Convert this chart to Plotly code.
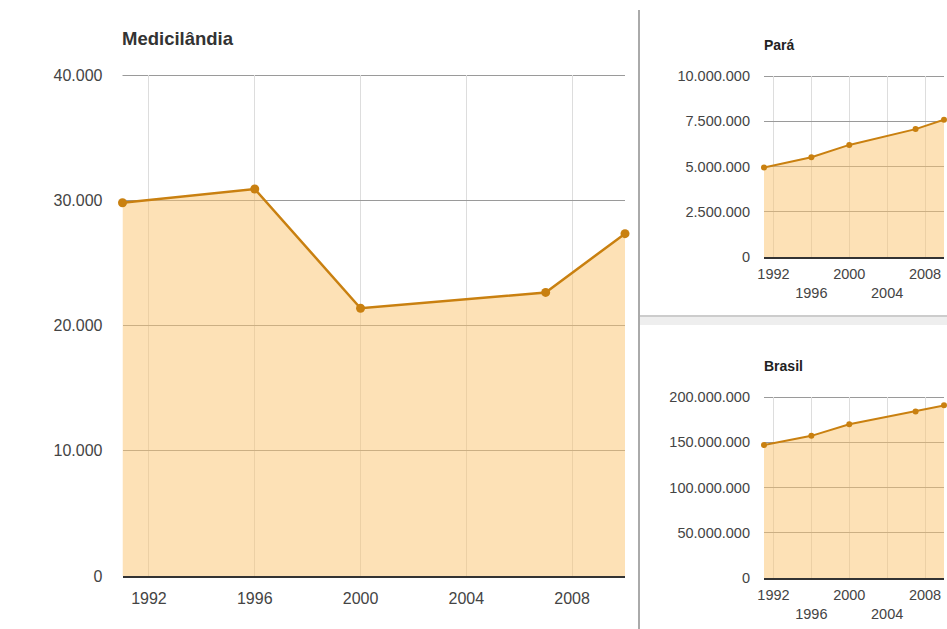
import plotly.graph_objects as go

years = [1991, 1996, 2000, 2007, 2010]
medicilandia = [29800, 30900, 21380, 22640, 27330]
para = [4950060, 5510849, 6192307, 7065573, 7581051]
brasil = [146825475, 157070163, 169799170, 183987291, 190755799]

main_yticks = [0, 10000, 20000, 30000, 40000]
para_yticks = [0, 2500000, 5000000, 7500000, 10000000]
brasil_yticks = [0, 50000000, 100000000, 150000000, 200000000]
xticks = [1992, 1996, 2000, 2004, 2008]
main_xtext = ["1992", "1996", "2000", "2004", "2008"]
small_xtext = ["1992", "<br>1996", "2000", "<br>2004", "2008"]

W, H = 947, 629
LINE = "#c98010"
FILL = "rgba(252,196,110,0.5)"
FONT = "Liberation Sans, Arial, sans-serif"
GRID = "#9a9a9a"

def px_x(a, b):
    return [a / W, b / W]

def px_y(top, bottom):
    return [(H - bottom) / H, (H - top) / H]

fig = go.Figure()

fig.add_trace(go.Scatter(x=years, y=medicilandia, mode="lines+markers", fill="tozeroy",
                         fillcolor=FILL, line=dict(color=LINE, width=2.5),
                         marker=dict(size=9, color=LINE), cliponaxis=False,
                         xaxis="x", yaxis="y", showlegend=False))
fig.add_trace(go.Scatter(x=years, y=para, mode="lines+markers", fill="tozeroy",
                         fillcolor=FILL, line=dict(color=LINE, width=2),
                         marker=dict(size=6, color=LINE), cliponaxis=False,
                         xaxis="x2", yaxis="y2", showlegend=False))
fig.add_trace(go.Scatter(x=years, y=brasil, mode="lines+markers", fill="tozeroy",
                         fillcolor=FILL, line=dict(color=LINE, width=2),
                         marker=dict(size=6, color=LINE), cliponaxis=False,
                         xaxis="x3", yaxis="y3", showlegend=False))

def xax(domain, anchor, text, size, standoff):
    return dict(domain=domain, anchor=anchor, range=[1991, 2010], tickvals=xticks, ticktext=text,
                showgrid=True, gridcolor="#dddddd", gridwidth=1, zeroline=False,
                showline=True, linecolor="#333333", linewidth=2, ticks="",
                ticklabelstandoff=standoff, automargin=False,
                tickfont=dict(family=FONT, size=size, color="#444444"), fixedrange=True)

def yax(domain, anchor, vals, size, standoff):
    return dict(domain=domain, anchor=anchor, range=[vals[0], vals[-1]], tickvals=vals, tickformat=",d",
                showgrid=True, gridcolor=GRID, gridwidth=1, zeroline=False,
                showline=False, ticks="", ticklabelstandoff=standoff, automargin=False,
                tickfont=dict(family=FONT, size=size, color="#444444"), fixedrange=True)

panels = [
    ("x", "y", px_x(122.5, 625), (75, 576), main_yticks, main_xtext, 16, 7, 19),
    ("x2", "y2", px_x(764, 944), (76, 257), para_yticks, small_xtext, 14.5, 3, 13),
    ("x3", "y3", px_x(764, 944), (397, 578), brasil_yticks, small_xtext, 14.5, 3, 13),
]

layout = dict(width=W, height=H, margin=dict(l=0, r=0, t=0, b=0),
              paper_bgcolor="white", plot_bgcolor="white", separators=",.")
shapes = []
for xa, ya, xdom, (top, bot), yvals, xtext, fs, xstand, ystand in panels:
    xkey = "xaxis" + xa[1:]
    ykey = "yaxis" + ya[1:]
    layout[xkey] = xax(xdom, ya, xtext, fs, xstand)
    layout[ykey] = yax(px_y(top, bot), xa, yvals, fs, ystand)
    # top grid line (Plotly drops the grid line at the range edge); nudge half a pixel inside
    half_px = 0.5 * (yvals[-1] - yvals[0]) / (bot - top)
    ytop = yvals[-1] - half_px
    shapes.append(dict(type="line", xref=xa + " domain", yref=ya, x0=0, x1=1, y0=ytop, y1=ytop,
                       line=dict(color=GRID, width=1), layer="below"))
fig.update_layout(**layout)

annotations = [
    dict(text="<b>Medicilândia</b>", x=120 / W, y=(H - 38) / H, font=dict(family=FONT, size=18.5, color="#333333")),
    dict(text="<b>Pará</b>", x=762 / W, y=(H - 45) / H, font=dict(family=FONT, size=14, color="#222222")),
    dict(text="<b>Brasil</b>", x=762 / W, y=(H - 366) / H, font=dict(family=FONT, size=14, color="#222222")),
]
for a in annotations:
    a.update(xref="paper", yref="paper", xanchor="left", yanchor="middle", showarrow=False)
fig.update_layout(annotations=annotations)

shapes += [
    dict(type="rect", xref="paper", yref="paper", x0=640 / W, x1=1, y0=(H - 325) / H, y1=(H - 317) / H,
         fillcolor="#eeeeee", line=dict(width=0), layer="above"),
    dict(type="line", xref="paper", yref="paper", x0=640 / W, x1=1, y0=(H - 316) / H, y1=(H - 316) / H,
         line=dict(color="#bbbbbb", width=1.5), layer="above"),
    dict(type="line", xref="paper", yref="paper", x0=639 / W, x1=639 / W, y0=0, y1=(H - 10) / H,
         line=dict(color="#aaaaaa", width=2), layer="above"),
]
fig.update_layout(shapes=shapes)

fig.write_html("out.html")
